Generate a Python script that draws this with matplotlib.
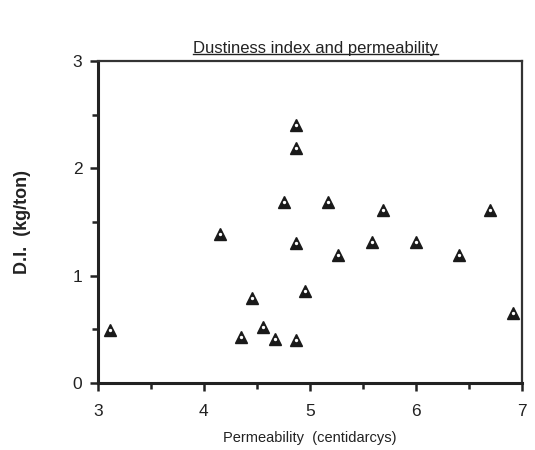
import matplotlib
matplotlib.use('Agg')
import matplotlib.pyplot as plt
from matplotlib.ticker import MultipleLocator
from matplotlib.lines import Line2D

plt.rcParams['font.family'] = ['Liberation Sans', 'DejaVu Sans']

# Data
permeability = [3.12, 4.15, 4.46, 4.35, 4.56, 4.67, 4.87, 4.87, 4.87, 4.76,
                5.17, 4.87, 5.27, 4.96, 5.69, 6.70, 5.59, 6.00, 6.41, 6.92]
dustiness = [0.49, 1.39, 0.79, 0.43, 0.52, 0.41, 0.40, 2.40, 2.19, 1.69,
             1.69, 1.30, 1.19, 0.86, 1.61, 1.61, 1.31, 1.31, 1.19, 0.65]

title = "Dustiness index and permeability"
x_label = "Permeability  (centidarcys)"
y_label = "D.I.  (kg/ton)"

fig = plt.figure(figsize=(5.35, 4.5), dpi=100)
ax = fig.add_axes([0.1826, 0.149, 0.7925, 0.7156])

ax.plot(permeability, dustiness, linestyle='none', marker='^', ms=8.5,
        color='#1a1a1a', mec='#1a1a1a')
ax.plot(permeability, dustiness, linestyle='none', marker='o', ms=1.4,
        color='white', mec='white')

ax.set_xlim(3, 7)
ax.set_ylim(0, 3)
ax.xaxis.set_major_locator(MultipleLocator(1))
ax.xaxis.set_minor_locator(MultipleLocator(0.5))
ax.yaxis.set_major_locator(MultipleLocator(1))
ax.yaxis.set_minor_locator(MultipleLocator(0.5))

ax.tick_params(which='both', direction='out', top=False, right=False,
               width=1.8, color='#222222', labelsize=12.5, labelcolor='#222222')
ax.tick_params(which='major', length=6, pad=5)
ax.tick_params(axis='x', which='major', pad=9)
ax.tick_params(which='minor', length=4)

for side in ['left', 'bottom']:
    ax.spines[side].set_linewidth(2.2)
    ax.spines[side].set_color('#222222')
for side in ['top', 'right']:
    ax.spines[side].set_linewidth(1.6)
    ax.spines[side].set_color('#333333')

ax.set_xlabel(x_label, fontsize=10.5, color='#222222', labelpad=9)
ax.set_ylabel(y_label, fontsize=13, fontweight='bold', color='#222222',
              labelpad=30)

t = fig.text(0.59, 0.893, title, fontsize=12, ha='center', va='center',
             color='#222222')

# underline the title
fig.canvas.draw()
bb = t.get_window_extent().transformed(fig.transFigure.inverted())
fig.add_artist(Line2D([bb.x0, bb.x1], [bb.y0 + 0.003, bb.y0 + 0.003],
                      transform=fig.transFigure, color='#222222', lw=1.0))

fig.savefig('out.png', dpi=100)
